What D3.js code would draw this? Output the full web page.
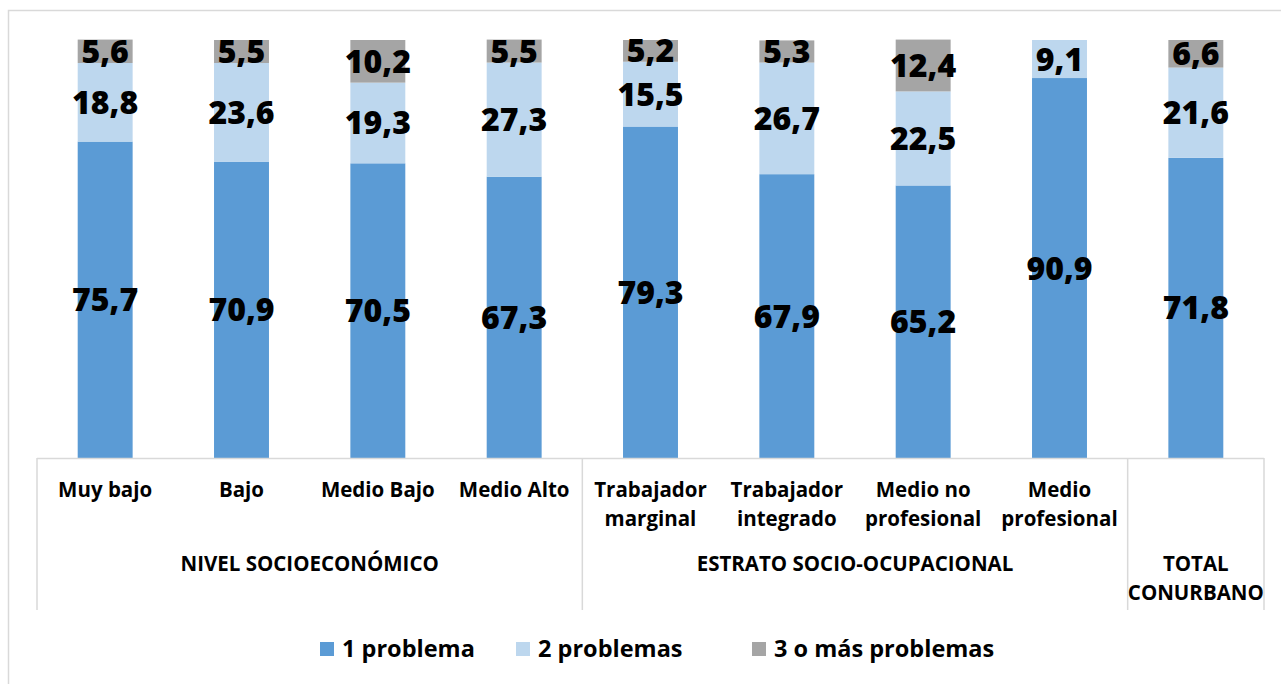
<!DOCTYPE html>
<html>
<head>
<meta charset="utf-8">
<script src="https://cdn.jsdelivr.net/npm/d3@7"></script>
<style>
  body { margin: 0; background: #fff; }
  text { font-family: "Open Sans", "Noto Sans", sans-serif; font-weight: bold; fill: #000; }
</style>
</head>
<body>
<div id="chart"></div>
<script>
// categories (one per bar), "\n" splits label lines
const categories = ["Muy bajo", "Bajo", "Medio Bajo", "Medio Alto",
    "Trabajador\nmarginal", "Trabajador\nintegrado", "Medio no\nprofesional", "Medio\nprofesional", ""];
const groupNames = ["NIVEL SOCIOECONÓMICO", "ESTRATO SOCIO-OCUPACIONAL", "TOTAL\nCONURBANO"];
const groupSpans = [4, 4, 1];

const unProblema = [75.7, 70.9, 70.5, 67.3, 79.3, 67.9, 65.2, 90.9, 71.8];
const dosProblemas = [18.8, 23.6, 19.3, 27.3, 15.5, 26.7, 22.5, 9.1, 21.6];
const tresOMas = [5.6, 5.5, 10.2, 5.5, 5.2, 5.3, 12.4, 0, 6.6];

const seriesNames = ["1 problema", "2 problemas", "3 o más problemas"];
const colors = ["#5B9BD5", "#BDD7EE", "#A5A5A5"];

let width = 1281;
let height = 684;
let margin = ({top: 40, right: 17, bottom: 226, left: 37});

let data = categories.map((c, i) => ({
    key: i, cat: c,
    "1 problema": unProblema[i],
    "2 problemas": dosProblemas[i],
    "3 o más problemas": tresOMas[i]
}));
let stacked = d3.stack().keys(seriesNames)(data);

let x = d3.scaleBand()
    .domain(data.map(d => d.key))
    .range([margin.left, width - margin.right])
    .padding(0);
let barW = x.bandwidth() * 0.403;

let y = d3.scaleLinear()
    .domain([0, 100])
    .range([height - margin.bottom, margin.top]);

const svg = d3.select("#chart").append("svg")
    .attr("width", width)
    .attr("height", height);

// outer chart frame
svg.append("path")
    .attr("d", `M8.5,${height}V10.5H${width}`)
    .attr("fill", "none")
    .attr("stroke", "#D9D9D9")
    .attr("stroke-width", 1.5);

// bars
svg.append("g")
    .selectAll("g")
    .data(stacked)
    .join("g")
        .attr("fill", (d, i) => colors[i])
    .selectAll("rect")
    .data(d => d)
    .join("rect")
        .attr("x", d => x(d.data.key) + (x.bandwidth() - barW) / 2)
        .attr("y", d => y(d[1]))
        .attr("width", barW)
        .attr("height", d => y(d[0]) - y(d[1]));

// value labels
svg.append("g")
    .selectAll("g")
    .data(stacked)
    .join("g")
    .selectAll("text")
    .data(d => d.filter(v => v[1] - v[0] > 0))
    .join("text")
        .attr("x", d => x(d.data.key) + x.bandwidth() / 2)
        .attr("y", d => (y(d[0]) + y(d[1])) / 2)
        .attr("dy", "0.36em")
        .attr("text-anchor", "middle")
        .style("font-size", "32px")
        .style("font-weight", 800)
        .text(d => d3.format(".1f")(d[1] - d[0]).replace(".", ","));

// category axis line
let y0 = y(0);
let axisBottom = y0 + 152;
svg.append("line")
    .attr("x1", margin.left).attr("x2", width - margin.right)
    .attr("y1", y0 + 0.5).attr("y2", y0 + 0.5)
    .attr("stroke", "#D9D9D9").attr("stroke-width", 1.5);

// group separators
let bounds = [0];
groupSpans.forEach(s => bounds.push(bounds[bounds.length - 1] + s));
let step = x.step();
svg.append("g")
    .selectAll("line")
    .data(bounds)
    .join("line")
        .attr("x1", b => margin.left + b * step)
        .attr("x2", b => margin.left + b * step)
        .attr("y1", y0)
        .attr("y2", axisBottom)
        .attr("stroke", "#D9D9D9")
        .attr("stroke-width", 1.5);

// category labels
svg.append("g")
    .selectAll("text")
    .data(data)
    .join("text")
        .attr("x", d => x(d.key) + x.bandwidth() / 2)
        .attr("y", y0 + 39)
        .attr("text-anchor", "middle")
        .style("font-size", "20.5px")
    .selectAll("tspan")
    .data(d => d.cat.split("\n").map(t => ({t, x: x(d.key) + x.bandwidth() / 2})))
    .join("tspan")
        .attr("x", d => d.x)
        .attr("dy", (d, i) => i ? 29 : 0)
        .text(d => d.t);

// group labels
svg.append("g")
    .selectAll("text")
    .data(groupNames)
    .join("text")
        .attr("x", (g, i) => margin.left + (bounds[i] + groupSpans[i] / 2) * step)
        .attr("y", y0 + 113)
        .attr("text-anchor", "middle")
        .style("font-size", "20.5px")
    .each(function(g, i) {
        let cx = margin.left + (bounds[i] + groupSpans[i] / 2) * step;
        d3.select(this).selectAll("tspan")
            .data(g.split("\n"))
            .join("tspan")
                .attr("x", cx)
                .attr("dy", (t, j) => j ? 29 : 0)
                .text(t => t);
    });

// legend
let legendX = [320, 516, 752];
let legend = svg.append("g")
    .selectAll("g")
    .data(seriesNames)
    .join("g")
        .attr("transform", (d, i) => `translate(${legendX[i]},642)`);
legend.append("rect")
    .attr("width", 14).attr("height", 14)
    .attr("fill", (d, i) => colors[i]);
legend.append("text")
    .attr("x", 22).attr("y", 7)
    .attr("dy", "0.36em")
    .style("font-size", "23.5px")
    .text(d => d);
</script>
</body>
</html>
